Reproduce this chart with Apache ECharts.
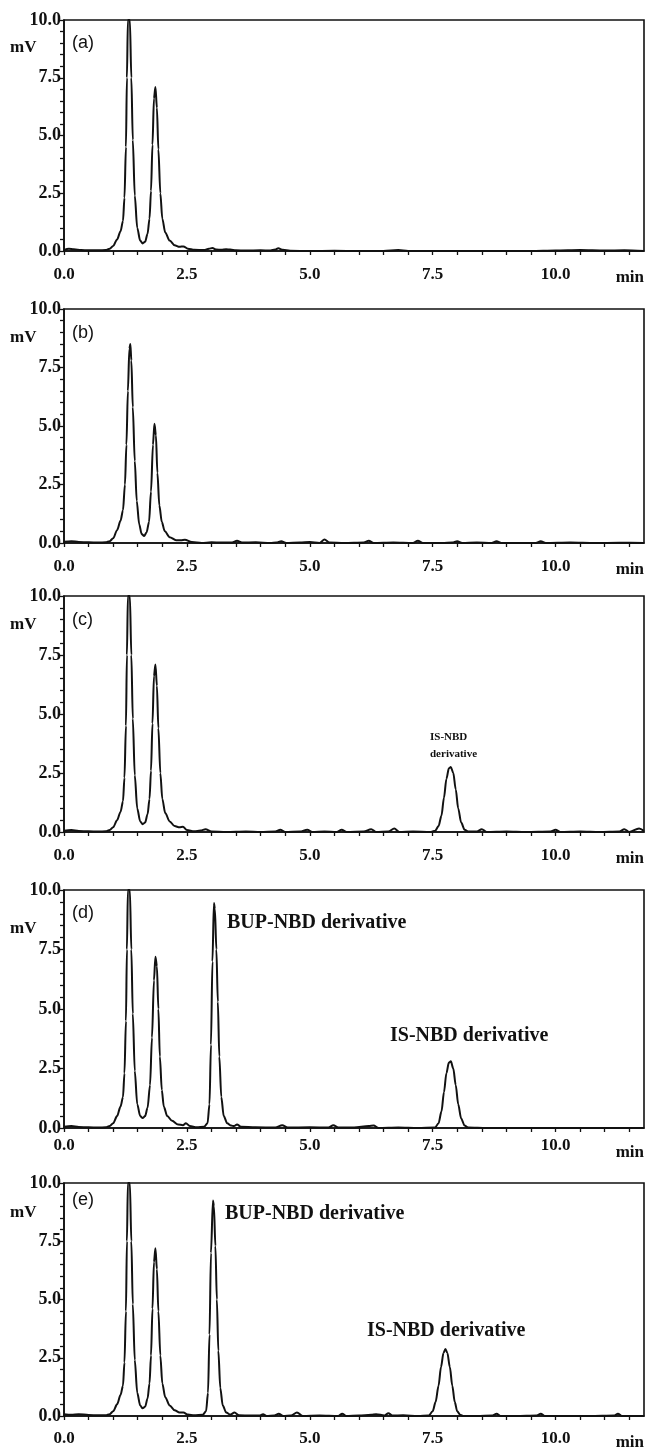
<!DOCTYPE html>
<html>
<head>
<meta charset="utf-8">
<script src="https://cdn.jsdelivr.net/npm/echarts@6/dist/echarts.min.js"></script>
<style>
  html, body { margin: 0; padding: 0; background: #fff; }
  #chart { width: 654px; height: 1451px; }
</style>
</head>
<body>
<div id="chart"></div>
<script>
// ---------------- DATA ----------------
const panelLabels = ['(a)', '(b)', '(c)', '(d)', '(e)'];
const xTickLabels = ['0.0', '2.5', '5.0', '7.5', '10.0'];
const yTickLabels = ['0.0', '2.5', '5.0', '7.5', '10.0'];
const xUnit = 'min';
const yUnit = 'mV';

const tA = [0, 0.1, 0.2, 0.35, 0.5, 0.7, 0.85, 0.93, 1.0, 1.08, 1.15, 1.2, 1.23, 1.26, 1.28, 1.3, 1.34, 1.37, 1.4, 1.44, 1.49, 1.55, 1.6, 1.65, 1.7, 1.74, 1.77, 1.8, 1.83, 1.86, 1.89, 1.92, 1.96, 2.0, 2.06, 2.15, 2.25, 2.35, 2.43, 2.52, 2.65, 2.85, 2.95, 3.02, 3.1, 3.2, 3.3, 3.38, 3.5, 3.7, 4.0, 4.2, 4.3, 4.36, 4.45, 4.6, 5.0, 5.5, 6.0, 6.5, 6.8, 7.0, 7.5, 8.0, 8.5, 9.0, 9.5, 10.0, 10.5, 11.0, 11.4, 11.8];
const sA = [0.05, 0.1, 0.08, 0.04, 0.03, 0.03, 0.04, 0.1, 0.22, 0.5, 0.85, 1.3, 2.3, 4.5, 7.5, 10, 10, 7.5, 4.8, 2.4, 1.0, 0.45, 0.33, 0.4, 0.75, 1.4, 2.6, 4.6, 6.6, 7.1, 6.2, 4.4, 2.5, 1.4, 0.8, 0.45, 0.25, 0.18, 0.2, 0.1, 0.05, 0.04, 0.1, 0.13, 0.06, 0.05, 0.08, 0.06, 0.03, 0.02, 0.03, 0.02, 0.06, 0.12, 0.05, 0.01, 0.0, 0.01, 0.0, 0.0, 0.04, 0.0, 0.0, 0.0, 0.0, 0.0, 0.0, 0.02, 0.04, 0.02, 0.03, 0.0];

const tB = [0, 0.15, 0.3, 0.5, 0.7, 0.85, 0.93, 1.0, 1.08, 1.15, 1.2, 1.24, 1.27, 1.3, 1.33, 1.35, 1.37, 1.4, 1.44, 1.48, 1.53, 1.58, 1.63, 1.68, 1.73, 1.77, 1.81, 1.84, 1.87, 1.9, 1.94, 1.99, 2.05, 2.15, 2.28, 2.38, 2.46, 2.6, 2.8, 3.0, 3.2, 3.42, 3.52, 3.62, 3.9, 4.2, 4.32, 4.42, 4.52, 4.8, 5.0, 5.2, 5.3, 5.4, 5.7, 6.1, 6.2, 6.3, 6.7, 7.1, 7.2, 7.3, 7.7, 7.9, 8.0, 8.1, 8.4, 8.7, 8.8, 8.9, 9.3, 9.6, 9.7, 9.8, 10.3, 10.8, 11.3, 11.8];
const sB = [0.05, 0.08, 0.04, 0.03, 0.02, 0.03, 0.08, 0.2, 0.55, 0.95, 1.4, 2.5, 4.2, 6.5, 8.3, 8.5, 7.8, 5.8, 3.5, 1.8, 0.8, 0.38, 0.3, 0.45, 0.9, 2.2, 4.2, 5.1, 4.6, 3.0, 1.6, 0.9, 0.5, 0.25, 0.12, 0.12, 0.14, 0.04, 0.0, 0.03, 0.02, 0.02, 0.1, 0.02, 0.03, 0.0, 0.02, 0.08, 0.0, 0.02, 0.04, 0.0, 0.15, 0.02, 0.0, 0.02, 0.1, 0.0, 0.02, 0.0, 0.1, 0.0, 0.0, 0.02, 0.08, 0.0, 0.02, 0.0, 0.08, 0.0, 0.0, 0.0, 0.08, 0.0, 0.02, 0.0, 0.01, 0.0];

const tC = [0, 0.15, 0.3, 0.5, 0.7, 0.85, 0.93, 1.0, 1.08, 1.15, 1.2, 1.23, 1.26, 1.28, 1.3, 1.34, 1.37, 1.4, 1.44, 1.49, 1.55, 1.6, 1.65, 1.7, 1.74, 1.77, 1.8, 1.83, 1.86, 1.89, 1.92, 1.96, 2.0, 2.06, 2.15, 2.25, 2.35, 2.42, 2.5, 2.65, 2.78, 2.88, 3.0, 3.3, 3.7, 4.0, 4.3, 4.4, 4.5, 4.8, 4.95, 5.05, 5.3, 5.55, 5.65, 5.75, 6.1, 6.25, 6.35, 6.6, 6.72, 6.82, 7.1, 7.45, 7.55, 7.62, 7.68, 7.73, 7.78, 7.83, 7.87, 7.92, 7.97, 8.02, 8.08, 8.15, 8.22, 8.4, 8.5, 8.6, 9.0, 9.4, 9.9, 10.0, 10.1, 10.5, 10.9, 11.3, 11.4, 11.5, 11.7, 11.8];
const sC = [0.05, 0.08, 0.04, 0.03, 0.02, 0.03, 0.08, 0.2, 0.5, 0.85, 1.3, 2.3, 4.5, 7.5, 10, 10, 7.5, 4.8, 2.4, 1.0, 0.45, 0.33, 0.4, 0.75, 1.4, 2.6, 4.6, 6.6, 7.1, 6.2, 4.4, 2.5, 1.4, 0.8, 0.45, 0.25, 0.2, 0.22, 0.08, 0.03, 0.06, 0.12, 0.02, 0.0, 0.02, 0.0, 0.02, 0.1, 0.0, 0.02, 0.1, 0.0, 0.02, 0.0, 0.1, 0.0, 0.02, 0.12, 0.0, 0.02, 0.15, 0.0, 0.02, 0.0, 0.05, 0.25, 0.7, 1.45, 2.25, 2.7, 2.75, 2.5, 1.8, 1.0, 0.4, 0.1, 0.02, 0.02, 0.12, 0.0, 0.02, 0.0, 0.02, 0.1, 0.0, 0.02, 0.0, 0.02, 0.12, 0.0, 0.15, 0.05];

const tD = [0, 0.15, 0.3, 0.5, 0.7, 0.85, 0.93, 1.0, 1.08, 1.15, 1.2, 1.23, 1.26, 1.28, 1.3, 1.34, 1.37, 1.4, 1.44, 1.49, 1.55, 1.6, 1.65, 1.7, 1.75, 1.79, 1.83, 1.86, 1.89, 1.92, 1.95, 1.99, 2.03, 2.1, 2.2, 2.32, 2.42, 2.48, 2.56, 2.7, 2.85, 2.92, 2.96, 2.99, 3.02, 3.05, 3.07, 3.1, 3.13, 3.16, 3.2, 3.25, 3.32, 3.4, 3.46, 3.52, 3.6, 3.9, 4.3, 4.44, 4.55, 5.0, 5.38, 5.48, 5.58, 5.9, 6.2, 6.3, 6.4, 6.8, 7.2, 7.55, 7.62, 7.68, 7.73, 7.78, 7.83, 7.87, 7.92, 7.97, 8.02, 8.08, 8.15, 8.22, 8.6, 9.0, 9.5, 10.0, 10.5, 11.0, 11.5, 11.8];
const sD = [0.05, 0.08, 0.04, 0.03, 0.02, 0.03, 0.08, 0.2, 0.5, 0.9, 1.3, 2.3, 4.5, 7.5, 10, 10, 7.5, 4.8, 2.4, 1.0, 0.5, 0.42, 0.5, 0.85, 1.8, 3.8, 6.2, 7.2, 6.8, 5.0, 3.0, 1.6, 0.9, 0.5, 0.3, 0.15, 0.12, 0.2, 0.08, 0.03, 0.05, 0.2, 1.0, 3.5, 7.0, 9.45, 9.2, 7.5, 5.3, 3.0, 1.3, 0.5, 0.2, 0.1, 0.08, 0.15, 0.05, 0.03, 0.02, 0.12, 0.02, 0.03, 0.02, 0.12, 0.02, 0.02, 0.08, 0.1, 0.0, 0.02, 0.0, 0.02, 0.2, 0.7, 1.5, 2.3, 2.75, 2.8, 2.5, 1.8, 1.0, 0.4, 0.1, 0.02, 0.0, 0.0, 0.0, 0.0, 0.0, 0.0, 0.0, 0.0];

const tE = [0, 0.15, 0.3, 0.5, 0.7, 0.85, 0.93, 1.0, 1.08, 1.15, 1.2, 1.23, 1.26, 1.28, 1.3, 1.34, 1.37, 1.4, 1.44, 1.49, 1.55, 1.6, 1.65, 1.7, 1.74, 1.77, 1.8, 1.83, 1.86, 1.89, 1.92, 1.96, 2.0, 2.06, 2.15, 2.25, 2.35, 2.43, 2.52, 2.65, 2.82, 2.89, 2.93, 2.96, 2.99, 3.03, 3.05, 3.08, 3.11, 3.14, 3.18, 3.23, 3.3, 3.38, 3.47, 3.56, 3.8, 3.98, 4.05, 4.12, 4.28, 4.37, 4.46, 4.62, 4.74, 4.86, 5.2, 5.58, 5.66, 5.74, 6.0, 6.25, 6.35, 6.52, 6.6, 6.68, 6.9, 7.2, 7.42, 7.5, 7.56, 7.62, 7.67, 7.72, 7.76, 7.8, 7.85, 7.9, 7.95, 8.0, 8.06, 8.12, 8.4, 8.72, 8.8, 8.88, 9.2, 9.62, 9.7, 9.78, 10.2, 10.7, 11.2, 11.27, 11.35, 11.6, 11.8];
const sE = [0.08, 0.05, 0.08, 0.04, 0.03, 0.03, 0.08, 0.2, 0.5, 0.9, 1.3, 2.3, 4.5, 7.5, 10, 10, 7.5, 4.8, 2.4, 1.0, 0.45, 0.33, 0.4, 0.75, 1.4, 2.6, 4.6, 6.6, 7.2, 6.3, 4.5, 2.6, 1.4, 0.8, 0.45, 0.25, 0.15, 0.15, 0.06, 0.03, 0.05, 0.2, 1.0, 3.5, 7.0, 9.25, 9.0, 7.3, 5.0, 2.8, 1.2, 0.45, 0.15, 0.06, 0.15, 0.03, 0.02, 0.02, 0.08, 0.0, 0.02, 0.1, 0.0, 0.02, 0.15, 0.0, 0.02, 0.0, 0.1, 0.0, 0.02, 0.05, 0.08, 0.02, 0.12, 0.02, 0.03, 0.0, 0.02, 0.2, 0.6, 1.3, 2.1, 2.7, 2.88, 2.7, 2.1, 1.3, 0.6, 0.2, 0.05, 0.0, 0.0, 0.02, 0.1, 0.0, 0.0, 0.02, 0.1, 0.0, 0.0, 0.0, 0.02, 0.1, 0.0, 0.0, 0.0];

const times = [tA, tB, tC, tD, tE];
const signals = [sA, sB, sC, sD, sE];

// peak annotations per panel: [text, panelIndex]
const annotations = [
  ['IS-NBD\nderivative', 2],
  ['BUP-NBD derivative', 3],
  ['IS-NBD derivative', 3],
  ['BUP-NBD derivative', 4],
  ['IS-NBD derivative', 4]
];

// ---------------- LAYOUT ----------------
const gridTops = [20, 309, 596, 890, 1183];
const gridHeights = [231, 234, 236, 238, 233];
const xLabelMargins = [16, 16, 16, 10, 15];
const panelLabelDy = [24, 25, 25, 24, 18];
const unitDy = [28, 29, 29, 39, 30];
const minDy = [27, 27, 27, 25, 27];
const annPos = [ // x, y, size, align
  [430, 736, 11, 'left'],
  [227, 922, 20, 'left'],
  [390, 1035, 20, 'left'],
  [225, 1213, 20, 'left'],
  [367, 1330, 20, 'left']
];
const GL = 64, GW = 580;
const serif = '"Liberation Serif", "Times New Roman", serif';
const sans = '"Liberation Sans", Arial, sans-serif';
const ink = '#111';

const chart = echarts.init(document.getElementById('chart'), null, { renderer: 'canvas' });

const isMajor = v => Math.abs(v / 2.5 - Math.round(v / 2.5)) < 1e-6;

const grids = [], xAxes = [], yAxes = [], series = [], graphics = [];
for (let i = 0; i < 5; i++) {
  grids.push({
    left: GL, top: gridTops[i], width: GW, height: gridHeights[i],
    show: true, borderColor: ink, borderWidth: 1.6, backgroundColor: 'transparent'
  });
  xAxes.push({
    type: 'value', gridIndex: i, min: 0, max: 11.8, interval: 0.5,
    axisLine: { show: true, onZero: false, lineStyle: { color: ink, width: 1.6 } },
    axisTick: { show: true, length: 4, lineStyle: { color: ink, width: 1.3 } },
    splitLine: { show: false },
    axisLabel: {
      show: true, showMaxLabel: false, margin: xLabelMargins[i] - 1,
      fontFamily: serif, fontWeight: 'bold', fontSize: 17, color: ink,
      formatter: v => (isMajor(v) && v <= 10.001) ? xTickLabels[Math.round(v / 2.5)] : ''
    }
  });
  yAxes.push({
    type: 'value', gridIndex: i, min: 0, max: 10, interval: 0.5,
    axisLine: { show: true, lineStyle: { color: ink, width: 1.6 } },
    axisTick: { show: true, length: 4, lineStyle: { color: ink, width: 1.3 } },
    splitLine: { show: false },
    axisLabel: {
      show: true, margin: 3,
      fontFamily: serif, fontWeight: 'bold', fontSize: 18, color: ink,
      formatter: v => isMajor(v) ? yTickLabels[Math.round(v / 2.5)] : ''
    }
  });
  series.push({
    type: 'line', xAxisIndex: i, yAxisIndex: i,
    data: times[i].map((t, k) => [t, signals[i][k]]),
    showSymbol: false, smooth: 0.3, smoothMonotone: 'x',
    lineStyle: { color: ink, width: 2 },
    silent: true, animation: false
  });
  graphics.push({
    type: 'text', left: 72, top: gridTops[i] + panelLabelDy[i] - 10,
    style: { text: panelLabels[i], font: '18px ' + sans, fill: ink }
  });
  graphics.push({
    type: 'text', left: 10, top: gridTops[i] + unitDy[i] - 9,
    style: { text: yUnit, font: 'bold 17px ' + serif, fill: ink }
  });
  graphics.push({
    type: 'text', right: 654 - 644, top: gridTops[i] + gridHeights[i] + minDy[i] - 9,
    style: { text: xUnit, font: 'bold 17px ' + serif, fill: ink }
  });
}
annotations.forEach((a, j) => {
  const p = annPos[j];
  graphics.push({
    type: 'text', left: p[0], top: p[1] - (p[2] === 11 ? 7 : 11),
    style: {
      text: a[0], font: 'bold ' + p[2] + 'px ' + serif, fill: ink,
      lineHeight: p[2] === 11 ? 17 : p[2] + 4, align: p[3]
    }
  });
});

chart.setOption({
  animation: false,
  backgroundColor: '#fff',
  grid: grids, xAxis: xAxes, yAxis: yAxes, series: series,
  graphic: graphics
});
</script>
</body>
</html>
